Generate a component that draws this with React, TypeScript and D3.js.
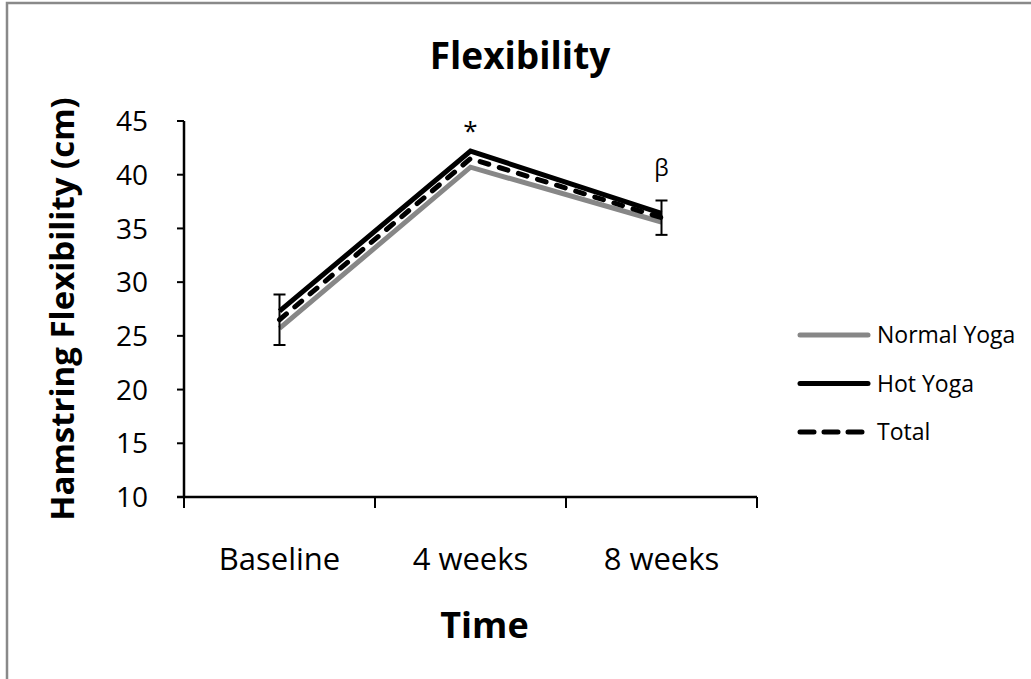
import React from "react"
import { scaleLinear, scalePoint, line } from "d3"

const categories = ["Baseline", "4 weeks", "8 weeks"]
const normalYoga = [25.7, 40.7, 35.6]
const hotYoga = [27.3, 42.2, 36.4]
const total = [26.5, 41.5, 36.0]
const totalErr = [2.35, 0, 1.6]
const yTicks = [10, 15, 20, 25, 30, 35, 40, 45]
const markers = ["", "*", "β"]

const font = "'Open Sans', Calibri, sans-serif"

export default function App() {
    const width = 1031
    const height = 679
    const margin = { top: 121, left: 184, right: 274, bottom: 182 }
    const plotW = width - margin.left - margin.right
    const plotH = height - margin.top - margin.bottom

    const x = scalePoint<string>().domain(categories).range([0, plotW]).padding(0.5)
    const y = scaleLinear().domain([10, 45]).range([plotH, 0])
    const step = x.step()
    const boundaries = [0, 1, 2, 3].map(i => i * step)

    const path = line<number>()
        .x((d, i) => x(categories[i]) as number)
        .y(d => y(d))

    const series = [
        { name: "Normal Yoga", values: normalYoga, color: "#878787", dash: undefined },
        { name: "Hot Yoga", values: hotYoga, color: "#000", dash: undefined },
        { name: "Total", values: total, color: "#000", dash: "9,11" },
    ]

    return (
        <svg width={width} height={height} style={{ position: "absolute", left: 0, top: 0, background: "#fff" }}>
            <rect x={7} y={3} width={width + 50} height={height + 50} fill="#fff" stroke="#898989" strokeWidth={2.5} />
            <text x={520} y={69} textAnchor="middle" fontFamily={font} fontWeight="bold" fontSize={37}>Flexibility</text>

            <g transform={"translate(" + margin.left + "," + margin.top + ")"}>
                {series.map(s => (
                    <path key={s.name} d={path(s.values) || ""} fill="none" stroke={s.color}
                        strokeWidth={5} strokeDasharray={s.dash} strokeLinecap={s.dash ? "round" : "butt"}
                        strokeLinejoin="miter" />
                ))}

                {total.map((v, i) => totalErr[i] > 0 && (
                    <g key={"err" + i} stroke="#000" strokeWidth={2}>
                        <line x1={x(categories[i])} x2={x(categories[i])} y1={y(v + totalErr[i])} y2={y(v - totalErr[i])} />
                        <line x1={(x(categories[i]) as number) - 6} x2={(x(categories[i]) as number) + 6} y1={y(v + totalErr[i])} y2={y(v + totalErr[i])} />
                        <line x1={(x(categories[i]) as number) - 6} x2={(x(categories[i]) as number) + 6} y1={y(v - totalErr[i])} y2={y(v - totalErr[i])} />
                    </g>
                ))}

                {markers.map((m, i) => m && (
                    <text key={"m" + i} x={x(categories[i])}
                        y={y(m === "*" ? hotYoga[i] : total[i] + totalErr[i]) - (m === "*" ? 11 : 24)}
                        textAnchor="middle" fontFamily={font} fontSize={m === "*" ? 26 : 23}>{m}</text>
                ))}

                <line x1={0} x2={0} y1={0} y2={plotH} stroke="#000" strokeWidth={2.5} />
                {yTicks.map(t => (
                    <g key={t} transform={"translate(0," + y(t) + ")"}>
                        <line x1={-7} x2={0} stroke="#000" strokeWidth={2} />
                        <text x={-36} dy="0.36em" textAnchor="end" fontFamily={font} fontSize={28}>{t}</text>
                    </g>
                ))}

                <line x1={-7} x2={plotW} y1={plotH} y2={plotH} stroke="#000" strokeWidth={2.5} />
                {boundaries.map((b, i) => (
                    <line key={"xt" + i} x1={b} x2={b} y1={plotH} y2={plotH + 11} stroke="#000" strokeWidth={2} />
                ))}
                {categories.map(c => (
                    <text key={c} x={x(c)} y={plotH + 73} textAnchor="middle" fontFamily={font} fontSize={31}>{c}</text>
                ))}
                <text x={plotW / 2 + 14} y={plotH + 141} textAnchor="middle" fontFamily={font} fontWeight="bold" fontSize={36}>Time</text>
            </g>

            <text transform={"translate(74," + (margin.top + plotH / 2) + ") rotate(-90)"} textAnchor="middle"
                fontFamily={font} fontWeight="bold" fontSize={33}>Hamstring Flexibility (cm)</text>

            <g transform="translate(798,335)">
                {series.map((s, i) => (
                    <g key={s.name} transform={"translate(0," + i * 48.5 + ")"}>
                        <line x1={2} x2={70} stroke={s.color} strokeWidth={5} strokeLinecap="round"
                            strokeDasharray={s.dash ? "14,10" : undefined} />
                        <text x={79} dy="0.36em" fontFamily={font} fontSize={23}>{s.name}</text>
                    </g>
                ))}
            </g>
        </svg>
    )
}
